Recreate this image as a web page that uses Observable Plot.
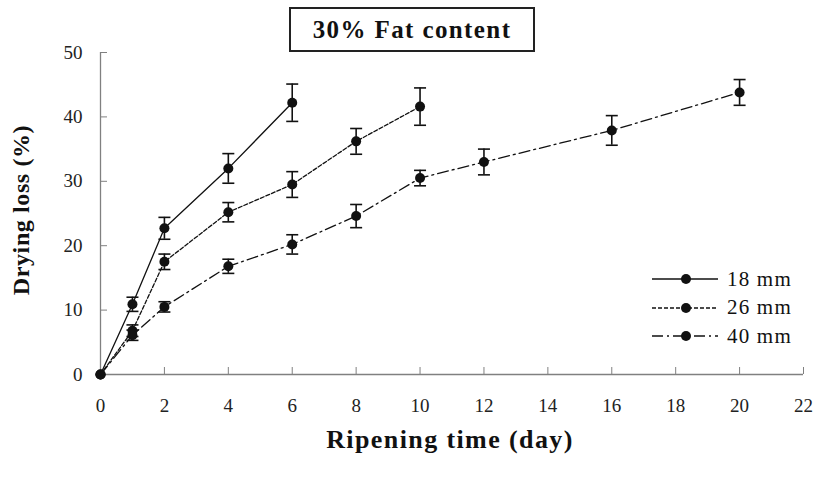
<!DOCTYPE html>
<html>
<head>
<meta charset="utf-8">
<script src="https://cdn.jsdelivr.net/npm/d3@7"></script>
<script src="https://cdn.jsdelivr.net/npm/@observablehq/plot@0.6"></script>
<style>
  html, body { margin: 0; padding: 0; background: #fff; }
  #wrap { position: relative; width: 815px; height: 477px; overflow: hidden; }
  #title { position: absolute; left: 289px; top: 7px; width: 242px; height: 41px; border: 2px solid #222;
    font-family: "Liberation Serif", "DejaVu Serif", serif; font-weight: bold; font-size: 25px; letter-spacing: 1.4px;
    display: flex; align-items: center; justify-content: center; background: #fff; box-sizing: content-box; color: #111; }
  #legend { position: absolute; left: 650px; top: 265px; font-family: "Liberation Serif", serif; font-size: 21px; letter-spacing: 1.2px; color: #111; }
  #legend .row { display: flex; align-items: center; height: 28.5px; }
  #legend svg { margin-right: 7px; }
  #ylab { position: absolute; left: 21px; top: 210px; transform: translate(-50%, -50%) rotate(-90deg); white-space: nowrap;
    font-family: "Liberation Serif", serif; font-weight: bold; font-size: 24px; letter-spacing: 0.6px; color: #111; }
  #xlab { position: absolute; left: 450px; top: 440px; transform: translate(-50%, -50%); white-space: nowrap;
    font-family: "Liberation Serif", serif; font-weight: bold; font-size: 26px; letter-spacing: 1.4px; color: #111; }
</style>
</head>
<body>
<div id="wrap">
  <div id="chart"></div>
  <div id="title"></div>
  <div id="legend"></div>
  <div id="ylab"></div>
  <div id="xlab"></div>
</div>
<script>
// ---- data ----
const titleText = "30% Fat content";
const xLabel = "Ripening time (day)";
const yLabel = "Drying loss (%)";
const seriesNames = ["18 mm", "26 mm", "40 mm"];
const xTicks = [0, 2, 4, 6, 8, 10, 12, 14, 16, 18, 20, 22];
const yTicks = [0, 10, 20, 30, 40, 50];

const days18 = [0, 1, 2, 4, 6];
const loss18 = [0, 10.9, 22.7, 32.0, 42.2];
const err18  = [0, 1.1, 1.7, 2.3, 2.9];

const days26 = [0, 1, 2, 4, 6, 8, 10];
const loss26 = [0, 6.8, 17.5, 25.2, 29.5, 36.2, 41.6];
const err26  = [0, 0.9, 1.2, 1.5, 2.0, 2.0, 2.9];

const days40 = [0, 1, 2, 4, 6, 8, 10, 12, 16, 20];
const loss40 = [0, 6.1, 10.5, 16.8, 20.2, 24.6, 30.5, 33.0, 37.9, 43.8];
const err40  = [0, 0.8, 0.8, 1.1, 1.5, 1.8, 1.2, 2.0, 2.3, 2.0];

// ---- styling ----
const dashes = {"18 mm": null, "26 mm": "4,2", "40 mm": "11,4,2,4"};
const serif = "'Liberation Serif', 'DejaVu Serif', serif";

function rows(name, days, loss, err) {
  return days.map((d, i) => ({series: name, day: d, loss: loss[i], err: err[i]}));
}
const groups = [
  rows(seriesNames[0], days18, loss18, err18),
  rows(seriesNames[1], days26, loss26, err26),
  rows(seriesNames[2], days40, loss40, err40)
];
const data = groups.flat();
const errData = data.filter(d => d.err > 0);

const capSymbol = {
  draw(ctx, size) {
    const w = Math.sqrt(size / Math.PI);
    ctx.moveTo(-w, 0);
    ctx.lineTo(w, 0);
  }
};

const axisColor = "#808080";

const lineMarks = groups.map(g => Plot.line(g, {
  x: "day", y: "loss", stroke: "#111", strokeWidth: 1.3,
  strokeDasharray: dashes[g[0].series]
}));

const chart = Plot.plot({
  width: 815,
  height: 477,
  marginTop: 52,
  marginBottom: 103,
  marginLeft: 100,
  marginRight: 12,
  style: {fontFamily: serif, background: "#fff", color: "#111"},
  x: {domain: [0, 22], ticks: xTicks},
  y: {domain: [0, 50], ticks: yTicks},
  marks: [
    Plot.ruleY([0], {stroke: axisColor, strokeWidth: 1.3}),
    Plot.ruleX([0], {stroke: axisColor, strokeWidth: 1.3}),
    Plot.axisX(xTicks, {tickSize: -7, stroke: axisColor, tickFormat: () => "", label: null}),
    Plot.axisX(xTicks, {tickSize: 0, tickPadding: 24, fontSize: 19, fontFamily: serif, label: null, fill: "#222"}),
    Plot.axisY(yTicks, {tickSize: -7, stroke: axisColor, tickFormat: () => "", label: null}),
    Plot.axisY(yTicks, {tickSize: 0, tickPadding: 18, fontSize: 19, fontFamily: serif, label: null, fill: "#222"}),
    ...lineMarks,
    Plot.ruleX(errData, {x: "day", y1: d => d.loss - d.err, y2: d => d.loss + d.err, stroke: "#111", strokeWidth: 1.6}),
    Plot.dot(errData, {x: "day", y: d => d.loss + d.err, symbol: capSymbol, r: 6, stroke: "#111", strokeWidth: 1.6, fill: "none"}),
    Plot.dot(errData, {x: "day", y: d => d.loss - d.err, symbol: capSymbol, r: 6, stroke: "#111", strokeWidth: 1.6, fill: "none"}),
    Plot.dot(data, {x: "day", y: "loss", r: 5, fill: "#111", stroke: "none"})
  ]
});
document.getElementById("chart").appendChild(chart);

document.getElementById("title").textContent = titleText;
document.getElementById("xlab").textContent = xLabel;
document.getElementById("ylab").textContent = yLabel;

const legend = document.getElementById("legend");
seriesNames.forEach(name => {
  const row = document.createElement("div");
  row.className = "row";
  const ns = "http://www.w3.org/2000/svg";
  const svg = document.createElementNS(ns, "svg");
  svg.setAttribute("width", 70);
  svg.setAttribute("height", 12);
  const ln = document.createElementNS(ns, "line");
  ln.setAttribute("x1", 2); ln.setAttribute("x2", 68);
  ln.setAttribute("y1", 6); ln.setAttribute("y2", 6);
  ln.setAttribute("stroke", "#111"); ln.setAttribute("stroke-width", 1.3);
  if (dashes[name]) ln.setAttribute("stroke-dasharray", dashes[name]);
  const c = document.createElementNS(ns, "circle");
  c.setAttribute("cx", 36); c.setAttribute("cy", 6); c.setAttribute("r", 5); c.setAttribute("fill", "#111");
  svg.appendChild(ln); svg.appendChild(c);
  const t = document.createElement("span");
  t.textContent = name;
  row.appendChild(svg); row.appendChild(t);
  legend.appendChild(row);
});
</script>
</body>
</html>
